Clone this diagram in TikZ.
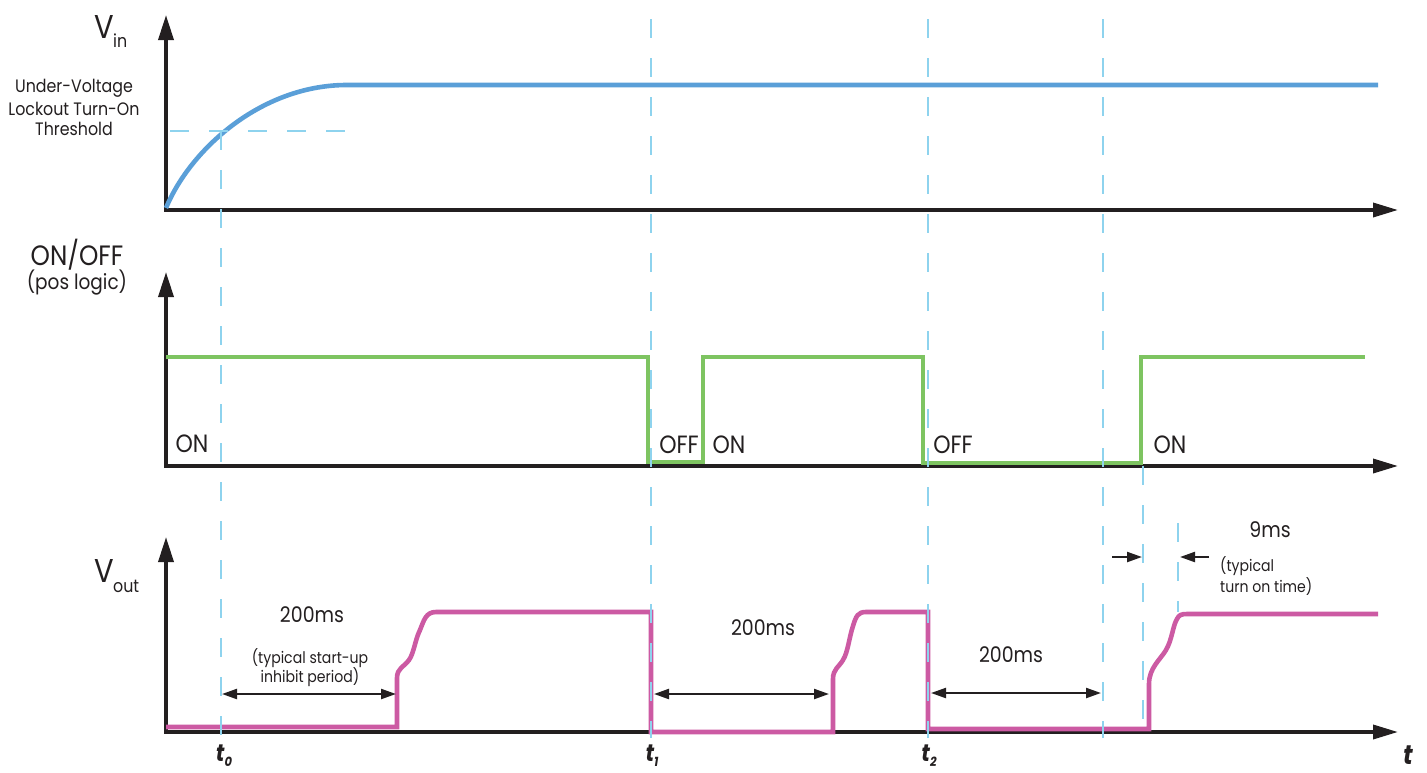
\documentclass[tikz,border=0pt]{standalone}
\usepackage{fontspec}
\setmainfont{Poppins}[FakeStretch=0.88]
\usetikzlibrary{arrows.meta}
\definecolor{inkc}{HTML}{231F20}
\definecolor{vinblue}{HTML}{5A9FD8}
\definecolor{guide}{HTML}{8ED3EE}
\definecolor{ongreen}{HTML}{7EC461}
\definecolor{voutpink}{HTML}{CC5AA3}
\tikzset{
  axis/.style={line width=3.5pt, inkc, {Triangle[length=25pt,width=15pt]}-{Triangle[length=25pt,width=14pt]}},
  guideline/.style={line width=2.8pt, guide, dash pattern=on 19pt off 20pt},
  sig/.style={line width=4.6pt, line join=miter},
  dim/.style={line width=2.2pt, inkc, {Triangle[length=15pt,width=10pt]}-{Triangle[length=15pt,width=10pt]}},
  dimtip/.style={line width=2.2pt, inkc, -{Triangle[length=15pt,width=10pt]}},
  big/.style={inkc, font=\fontsize{21.5pt}{24pt}\selectfont, anchor=base},
  state/.style={inkc, font=\fontsize{25pt}{27pt}\selectfont, anchor=base},
  head/.style={inkc, font=\fontsize{28pt}{30pt}\selectfont, anchor=base},
  mid/.style={inkc, font=\fontsize{18pt}{21pt}\selectfont, anchor=base},
  small/.style={inkc, font=\fontsize{16pt}{19pt}\selectfont, anchor=base},
  vlab/.style={inkc, font=\fontsize{33pt}{36pt}\selectfont, anchor=base},
  vsub/.style={inkc, font=\fontsize{18pt}{20pt}\selectfont, anchor=base west, inner sep=0pt},
  tlab/.style={inkc, font=\fontsize{24pt}{26pt}\selectfont\bfseries\itshape, anchor=base},
}
\newcommand{\tsub}[1]{\raisebox{-5pt}{\fontsize{13pt}{14pt}\selectfont #1}}
\begin{document}
\begin{tikzpicture}[x=1pt,y=-1pt]
\useasboundingbox (0,0) rectangle (1427,772);
\fill[white] (0,0) rectangle (1427,772);

% ---------- coordinates ----------
\coordinate (o1) at (166,210); \coordinate (y1) at (166,15);  \coordinate (x1) at (1398,210);
\coordinate (o2) at (166,466); \coordinate (y2) at (166,272); \coordinate (x2) at (1398,466);
\coordinate (o3) at (166,732); \coordinate (y3) at (166,537); \coordinate (x3) at (1398,732);

% ---------- axes ----------
\draw[axis] (y1) -- (o1) -- (x1);
\draw[axis] (y2) -- (o2) -- (x2);
\draw[axis] (y3) -- (o3) -- (x3);

% ---------- Vin ----------
\coordinate (vin0) at (166,208);
\coordinate (vin1) at (345,85);
\coordinate (vin2) at (1378,85);
\draw[sig, vinblue] (vin0) .. controls (190,150) and (260,86) .. (vin1) -- (vin2);

% ---------- ON/OFF ----------
\draw[sig, ongreen] (166,357) -- (648,357) -- (648,462) -- (703,462) -- (703,357)
  -- (923,357) -- (923,463) -- (1141,463) -- (1141,357) -- (1365,357);

% ---------- Vout ----------
\draw[sig, voutpink] (166,727) -- (397,727) -- (397,678)
  .. controls (397,668) and (404,667) .. (409,660)
  .. controls (414,653) and (415,640) .. (420,630)
  .. controls (424,620) and (426,612) .. (436,612)
  -- (651,612) -- (651,732) -- (833,732) -- (833,679)
  .. controls (833,669) and (839,667) .. (843,660)
  .. controls (848,652) and (849,638) .. (853,626)
  .. controls (856,616) and (858,612) .. (866,612)
  -- (928,612) -- (928,729) -- (1149,729) -- (1149,684)
  .. controls (1149,668) and (1160,660) .. (1166,650)
  .. controls (1172,640) and (1173,625) .. (1177,619)
  .. controls (1179,615) and (1181,614) .. (1187,614) -- (1378,614);

% ---------- guide lines ----------
\coordinate (th0) at (170,131); \coordinate (th1) at (345,131);
\draw[guideline] (th0) -- (th1);
\coordinate (g0t) at (221,131);  \coordinate (g0b) at (221,738);
\coordinate (g1t) at (651,19);   \coordinate (g1b) at (651,738);
\coordinate (g2t) at (928,19);   \coordinate (g2b) at (928,738);
\coordinate (g3t) at (1103,19);  \coordinate (g3b) at (1103,738);
\coordinate (g4t) at (1143,466); \coordinate (g4b) at (1143,738);
\coordinate (g5t) at (1178,523); \coordinate (g5b) at (1178,612);
\draw[guideline] (g0t) -- (g0b);
\draw[guideline] (g1t) -- (g1b);
\draw[guideline] (g2t) -- (g2b);
\draw[guideline] (g3t) -- (g3b);
\draw[guideline] (g4t) -- (g4b);
\draw[guideline] (g5t) -- (g5b);

% ---------- dimension arrows ----------
\coordinate (d1a) at (222,694); \coordinate (d1b) at (396,694);
\coordinate (d2a) at (654,694); \coordinate (d2b) at (829,694);
\coordinate (d3a) at (931,693); \coordinate (d3b) at (1101,693);
\draw[dim] (d1a) -- (d1b);
\draw[dim] (d2a) -- (d2b);
\draw[dim] (d3a) -- (d3b);
\coordinate (d4a) at (1112,557); \coordinate (d4b) at (1142,557);
\coordinate (d5a) at (1209,557); \coordinate (d5b) at (1180,557);
\draw[dimtip] (d4a) -- (d4b);
\draw[dimtip] (d5a) -- (d5b);

% ---------- texts ----------
\node[vlab] (vinV) at (104,38) {V};
\node[vsub] (vinS) at (113,47) {in};
\node[vlab] (voutV) at (104,582) {V};
\node[vsub] (voutS) at (113,592) {out};

\node[mid] (uv1) at (74,92)  {Under-Voltage};
\node[mid] (uv2) at (74,115) {Lockout Turn-On};
\node[mid] (uv3) at (74,135) {Threshold};

\node[head] (onoff) at (77,265) {ON/OFF};
\node[state, font=\fontsize{21pt}{23pt}\selectfont] (poslogic) at (77,289) {(pos logic)};

\node[state] (on1)  at (192,452) {ON};
\node[state] (off1) at (679,453) {OFF};
\node[state] (on2)  at (729,453) {ON};
\node[state] (off2) at (953,453) {OFF};
\node[state] (on3)  at (1170,453) {ON};

\node[big] (ms1) at (312,622) {200ms};
\node[small] (inh1) at (310,663) {(typical start-up};
\node[small] (inh2) at (310,682) {inhibit period)};
\node[big] (ms2) at (763,635) {200ms};
\node[big] (ms3) at (1011,662) {200ms};
\node[big] (ms4) at (1270,537) {9ms};
\node[small, anchor=base west, inner sep=0pt] (typ1) at (1220,571) {(typical};
\node[small, anchor=base west, inner sep=0pt] (typ2) at (1220,592) {turn on time)};

\node[tlab] (t0) at (224,761) {t\tsub{0}};
\node[tlab] (t1) at (652,761) {t\tsub{1}};
\node[tlab] (t2) at (929,761) {t\tsub{2}};
\node[tlab, inner sep=0pt, font=\fontsize{27pt}{29pt}\selectfont\bfseries\itshape] (tt) at (1408,764) {t};
\end{tikzpicture}
\end{document}
